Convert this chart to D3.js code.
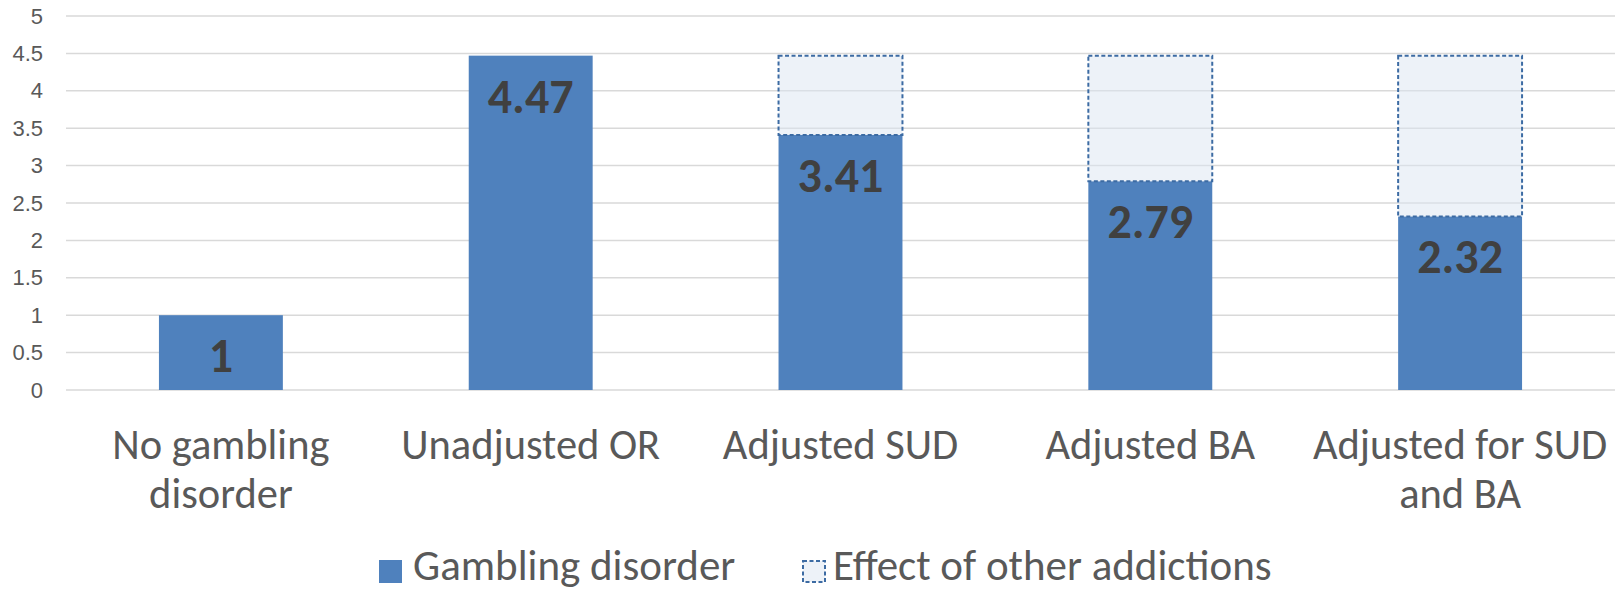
<!DOCTYPE html>
<html>
<head>
<meta charset="utf-8">
<script src="https://cdn.jsdelivr.net/npm/d3@7"></script>
<style>
  html, body { margin: 0; padding: 0; background: #fff; }
  svg { display: block; font-family: Carlito, Lato, "Open Sans", sans-serif; }
</style>
</head>
<body>
<svg id="chart" width="1615" height="591"></svg>
<script>
// Odds ratios for gambling disorder, unadjusted and adjusted
const categories = ["No gambling disorder", "Unadjusted OR", "Adjusted SUD", "Adjusted BA", "Adjusted for SUD and BA"];
const categoryLines = [["No gambling", "disorder"], ["Unadjusted OR"], ["Adjusted SUD"], ["Adjusted BA"], ["Adjusted for SUD", "and BA"]];
const gambling = [1, 4.47, 3.41, 2.79, 2.32];
const otherAddictions = [0, 0, 1.06, 1.68, 2.15];
const yTicks = [0, 0.5, 1, 1.5, 2, 2.5, 3, 3.5, 4, 4.5, 5];
const seriesNames = ["Gambling disorder", "Effect of other addictions"];

const BLUE = "#4F81BD";
const svg = d3.select("#chart");

const x = d3.scaleBand().domain(categories).range([66, 1615]).paddingInner(0.6).paddingOuter(0.3);
const y = d3.scaleLinear().domain([0, 5]).range([390, 16]);

// Gridlines and value labels on the left
const yAxis = d3.axisLeft(y).tickValues(yTicks).tickSize(0).tickPadding(23).tickFormat(d => String(d));
const gy = svg.append("g").attr("transform", "translate(66,0)").call(yAxis);
gy.select(".domain").remove();
gy.selectAll("text").attr("fill", "#595959").style("font-size", "22px").style("font-family", null);

svg.append("g").selectAll("line").data(yTicks).join("line")
  .attr("x1", 66).attr("x2", 1615)
  .attr("y1", d => y(d)).attr("y2", d => y(d))
  .attr("stroke", "#D9D9D9").attr("stroke-width", 1.5);

// Stacked bars
const rows = categories.map((c, i) => ({ cat: c, g: gambling[i], e: otherAddictions[i] }));
const stacked = d3.stack().keys(["g", "e"])(rows);

svg.append("g").selectAll("rect").data(stacked[0]).join("rect")
  .attr("x", d => x(d.data.cat)).attr("width", x.bandwidth())
  .attr("y", d => y(d[1])).attr("height", d => y(d[0]) - y(d[1]))
  .attr("fill", BLUE);

svg.append("g").selectAll("rect").data(stacked[1].filter(d => d.data.e > 0)).join("rect")
  .attr("x", d => x(d.data.cat)).attr("width", x.bandwidth())
  .attr("y", d => y(d[1])).attr("height", d => y(d[0]) - y(d[1]))
  .attr("fill", "rgba(220,230,242,0.5)")
  .attr("stroke", "#3C6BA3").attr("stroke-width", 2).attr("stroke-dasharray", "4,2.5");

// Value labels inside the top of the blue segment
svg.append("g").selectAll("text").data(stacked[0]).join("text")
  .attr("x", d => x(d.data.cat) + x.bandwidth() / 2)
  .attr("y", d => y(d[1]) + 57)
  .attr("text-anchor", "middle")
  .attr("fill", "#404040").style("font-size", "48px").style("font-weight", "bold")
  .text(d => d.data.g);

// Category labels
const cl = svg.append("g").selectAll("text").data(categories).join("text")
  .attr("text-anchor", "middle").attr("fill", "#595959").style("font-size", "42.5px")
  .attr("x", d => x(d) + x.bandwidth() / 2).attr("y", 459);
cl.selectAll("tspan").data((d, i) => categoryLines[i]).join("tspan")
  .attr("x", function () { return this.parentNode.getAttribute("x"); })
  .attr("dy", (d, i) => i === 0 ? 0 : 49)
  .text(d => d);

// Legend
const leg = svg.append("g");
leg.append("rect").attr("x", 379).attr("y", 560).attr("width", 23).attr("height", 23).attr("fill", BLUE);
leg.append("text").attr("x", 413).attr("y", 580).attr("fill", "#595959").style("font-size", "43px").text(seriesNames[0]);
leg.append("rect").attr("x", 803).attr("y", 561).attr("width", 22).attr("height", 21)
  .attr("fill", "rgba(220,230,242,0.5)").attr("stroke", "#3C6BA3").attr("stroke-width", 2).attr("stroke-dasharray", "4,2.5");
leg.append("text").attr("x", 833).attr("y", 580).attr("fill", "#595959").style("font-size", "43px").text(seriesNames[1]);
</script>
</body>
</html>
